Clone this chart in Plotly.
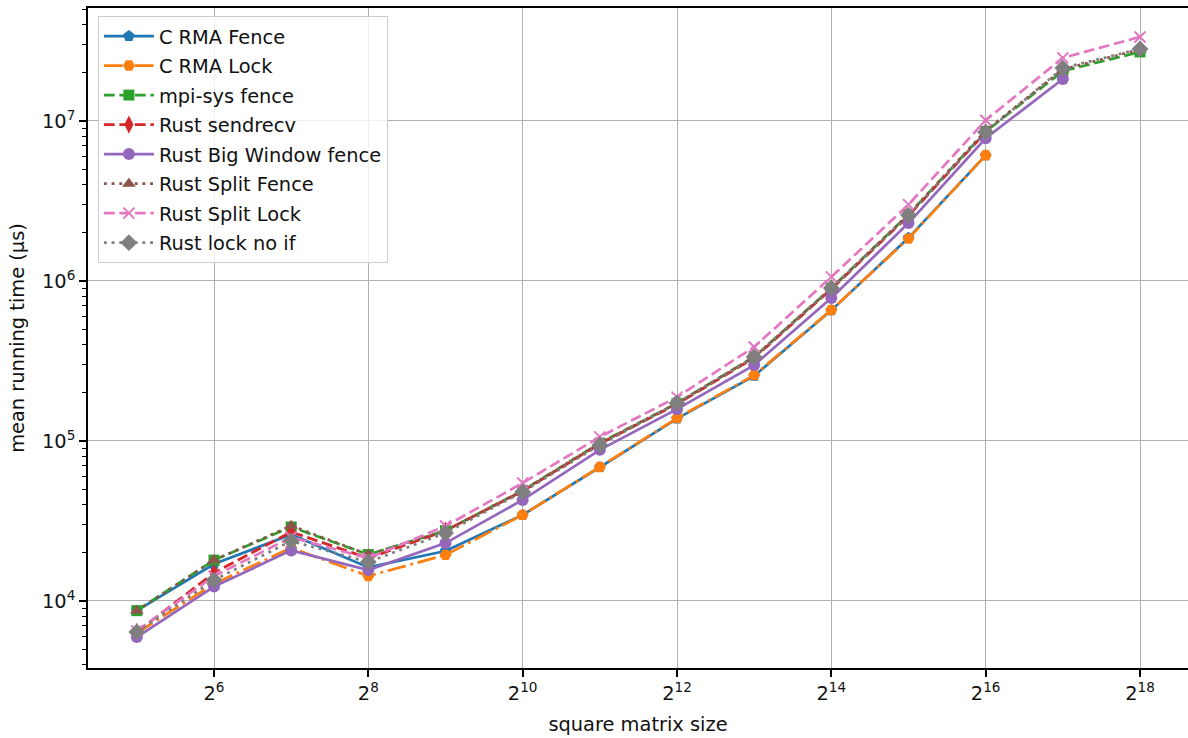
import plotly.graph_objects as go

sizes = [2**k for k in range(5, 19)]

c_rma_fence = [8700, 17000, 26000, 16200, 20500, 34500, 68500, 138000, 255000, 655000, 1.86e6, 6.1e6, None, None]
c_rma_lock = [6300, 12800, 21500, 14300, 19400, 34500, 68800, 139000, 258000, 659000, 1.84e6, 6.1e6, None, None]
mpi_sys_fence = [8700, 18000, 29000, 19500, 27500, 49000, 97000, 172000, 335000, 900000, 2.6e6, 8.6e6, 2.05e7, 2.7e7]
rust_sendrecv = [6400, 15000, 27000, 18500, 27500, 48500, 96000, 170000, 330000, 890000, 2.55e6, 8.5e6, None, None]
rust_big_window = [5950, 12300, 20700, 15600, 23000, 42800, 88000, 158000, 298000, 783000, 2.3e6, 7.8e6, 1.83e7, None]
rust_split_fence = [8700, 18000, 29500, 19500, 27500, 49000, 97000, 172000, 335000, 900000, 2.6e6, 8.7e6, 2.1e7, 2.8e7]
rust_split_lock = [6500, 14300, 25000, 18500, 29400, 54600, 106000, 188000, 387000, 1.06e6, 3.0e6, 1.01e7, 2.48e7, 3.35e7]
rust_lock_no_if = [6400, 13500, 23700, 17500, 26600, 48000, 94400, 172800, 335000, 904000, 2.58e6, 8.5e6, 2.14e7, 2.82e7]

x_tick_exps = [6, 8, 10, 12, 14, 16, 18]
y_tick_exps = [4, 5, 6, 7]

DASHED = "10.8px,4.7px"
DOTTED = "2.9px,4.8px"
DASHDOT = "18.7px,4.7px,2.9px,4.7px"

series = [
    ("C RMA Fence", c_rma_fence, "#1f77b4", "solid", "pentagon", 12),
    ("C RMA Lock", c_rma_lock, "#ff7f0e", DASHDOT, "hexagon2", 12),
    ("mpi-sys fence", mpi_sys_fence, "#2ca02c", DASHED, "square", 11),
    ("Rust sendrecv", rust_sendrecv, "#d62728", DASHED, "diamond-tall", 13),
    ("Rust Big Window fence", rust_big_window, "#9467bd", "solid", "circle", 12),
    ("Rust Split Fence", rust_split_fence, "#8c564b", DOTTED, "triangle-up", 12),
    ("Rust Split Lock", rust_split_lock, "#e377c2", DASHED, "x-thin-open", 11),
    ("Rust lock no if", rust_lock_no_if, "#7f7f7f", DOTTED, "diamond", 13),
]

FS = 19.4

fig = go.Figure()
for i, (name, vals, color, dash, sym, msize) in enumerate(series):
    marker = dict(symbol=sym, size=msize, color=color)
    if sym.endswith("open"):
        marker["line"] = dict(color=color, width=2)
    else:
        marker["line"] = dict(width=0)
    fig.add_trace(go.Scatter(
        x=sizes, y=vals, name=name, mode="lines+markers",
        line=dict(color=color, width=2.7, dash=dash),
        marker=marker, legendgroup=f"g{i}", connectgaps=False,
    ))

minor_y = [m * 10**e for e in range(3, 8) for m in range(2, 10)]

fig.update_layout(
    width=1188, height=738,
    margin=dict(l=88, r=0, t=8, b=70),
    paper_bgcolor="white", plot_bgcolor="white",
    font=dict(family="DejaVu Sans", size=FS, color="#111"),
    showlegend=True,
    legend=dict(
        x=0.009, y=0.988, xanchor="left", yanchor="top",
        bgcolor="rgba(255,255,255,0.8)", bordercolor="#cccccc", borderwidth=1,
        font=dict(family="DejaVu Sans", size=FS, color="#111"),
        tracegroupgap=1.3, itemwidth=50,
    ),
    xaxis=dict(
        type="log",
        range=[1.3146, 5.6058],
        tickmode="array",
        tickvals=[2**e for e in x_tick_exps],
        ticktext=[f"2<sup>{e}</sup>" for e in x_tick_exps],
        showgrid=True, gridcolor="#b0b0b0", gridwidth=1.2,
        showline=True, linecolor="black", linewidth=1.5, mirror=True,
        ticks="outside", ticklen=7, tickwidth=1.5, tickcolor="black",
        zeroline=False,
        title=dict(text="square matrix size", font=dict(size=FS), standoff=13),
    ),
    yaxis=dict(
        type="log",
        range=[3.581, 7.706],
        tickmode="array",
        tickvals=[10**e for e in y_tick_exps],
        ticktext=[f"10<sup>{e}</sup>" for e in y_tick_exps],
        showgrid=True, gridcolor="#b0b0b0", gridwidth=1.2,
        showline=True, linecolor="black", linewidth=1.5, mirror=False,
        ticks="outside", ticklen=7, tickwidth=1.5, tickcolor="black",
        minor=dict(tickmode="array", tickvals=minor_y, ticks="outside",
                   ticklen=4, tickwidth=1.1, tickcolor="black", showgrid=False),
        zeroline=False,
        title=dict(text="mean running time (µs)", font=dict(size=FS), standoff=12),
    ),
)

fig.write_html("out.html")
